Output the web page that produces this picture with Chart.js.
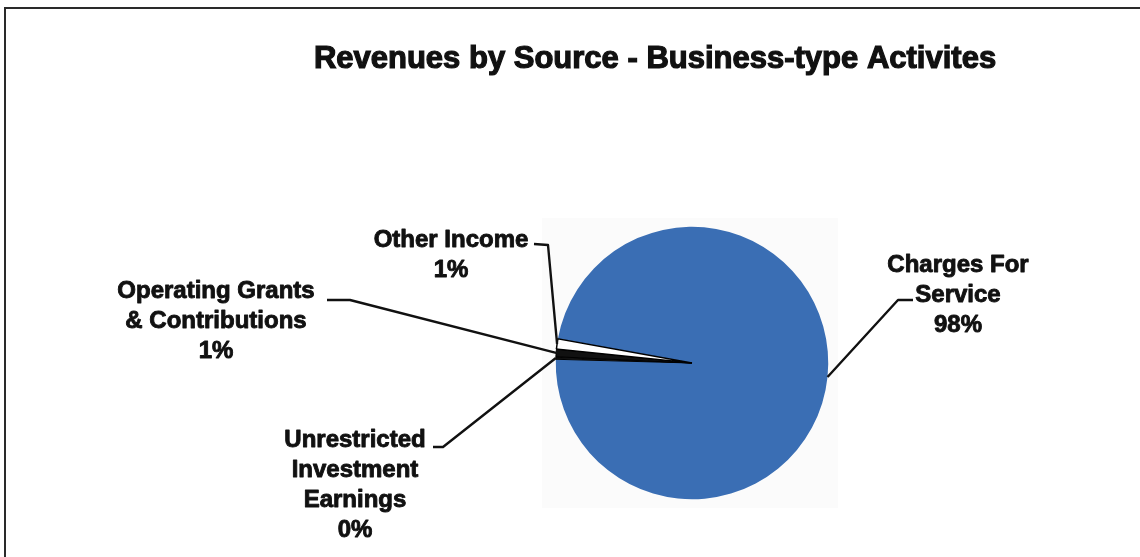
<!DOCTYPE html>
<html>
<head>
<meta charset="utf-8">
<title>Revenues by Source - Business-type Activites</title>
<script src="https://cdn.jsdelivr.net/npm/chart.js@4.4.1/dist/chart.umd.min.js"></script>
<style>
  html, body { margin: 0; padding: 0; background: #fff; }
  #wrap { width: 1140px; height: 557px; }
</style>
</head>
<body>
<div id="wrap"><canvas id="revChart" width="1140" height="557"></canvas></div>
<script>
// slices in drawing order (clockwise)
const categories = [
  ['Charges For', 'Service'],
  ['Unrestricted', 'Investment', 'Earnings'],
  ['Operating Grants', '& Contributions'],
  ['Other Income']
];
const shares = [97.6, 0.3, 0.9, 1.2];
const sliceColors = ['#3a6eb4', '#111111', '#111111', '#ffffff'];
const chartTitle = 'Revenues by Source - Business-type Activites';

// where each label block sits and where its leader line bends
const labelLayout = [
  { cx: 958, top: 272, elbow: [898, 300], end: [913, 300] },
  { cx: 355, top: 447, elbow: [443, 447], end: [433, 447] },
  { cx: 216, top: 298, elbow: [350, 300], end: [327, 300] },
  { cx: 451, top: 247, elbow: [548, 245], end: [534, 244] }
];

const FONT = '"Liberation Sans", Arial, sans-serif';

const frameAndText = {
  id: 'frameAndText',
  beforeDraw(chart) {
    const ctx = chart.ctx;
    ctx.save();
    // faint plot area behind the pie
    ctx.fillStyle = '#fbfbfb';
    ctx.fillRect(542, 218, 296, 290);
    ctx.restore();
  },
  afterDraw(chart) {
    const ctx = chart.ctx;
    const arcs = chart.getDatasetMeta(0).data;
    ctx.save();

    // outer frame (top and left edges)
    ctx.strokeStyle = '#2a2a2a';
    ctx.lineWidth = 2;
    ctx.beginPath();
    ctx.moveTo(5, 557);
    ctx.lineTo(5, 8);
    ctx.lineTo(1140, 8);
    ctx.stroke();

    // title
    ctx.fillStyle = '#111';
    ctx.strokeStyle = '#111';
    ctx.textAlign = 'center';
    ctx.textBaseline = 'alphabetic';
    ctx.font = 'bold 31px ' + FONT;
    ctx.lineWidth = 1.2;
    ctx.fillText(chartTitle, 655, 68);
    ctx.strokeText(chartTitle, 655, 68);

    // leader lines
    ctx.lineWidth = 2.4;
    ctx.lineJoin = 'round';
    arcs.forEach((arc, i) => {
      const p = arc.getProps(['x', 'y', 'startAngle', 'endAngle', 'outerRadius'], true);
      const mid = (p.startAngle + p.endAngle) / 2;
      const ax = p.x + Math.cos(mid) * p.outerRadius;
      const ay = p.y + Math.sin(mid) * p.outerRadius;
      const L = labelLayout[i];
      ctx.beginPath();
      ctx.moveTo(ax, ay);
      ctx.lineTo(L.elbow[0], L.elbow[1]);
      ctx.lineTo(L.end[0], L.end[1]);
      ctx.stroke();
    });

    // label text: name lines then rounded share
    ctx.font = 'bold 24px ' + FONT;
    ctx.lineWidth = 0.9;
    categories.forEach((lines, i) => {
      const L = labelLayout[i];
      const all = lines.concat([Math.round(shares[i]) + '%']);
      all.forEach((t, k) => {
        const y = L.top + k * 30;
        ctx.fillText(t, L.cx, y);
        ctx.strokeText(t, L.cx, y);
      });
    });
    ctx.restore();
  }
};

const ctx = document.getElementById('revChart').getContext('2d');
new Chart(ctx, {
  type: 'pie',
  data: {
    labels: categories,
    datasets: [{
      data: shares,
      backgroundColor: sliceColors,
      borderColor: ['#3a6eb4', '#000', '#000', '#000'],
      borderWidth: [0, 1, 1, 1.5],
      borderJoinStyle: 'miter'
    }]
  },
  options: {
    responsive: false,
    animation: false,
    rotation: 280.2,
    layout: { padding: { left: 555, top: 226, right: 311, bottom: 57 } },
    plugins: {
      legend: { display: false },
      tooltip: { enabled: false },
      title: { display: false }
    }
  },
  plugins: [frameAndText]
});
</script>
</body>
</html>
